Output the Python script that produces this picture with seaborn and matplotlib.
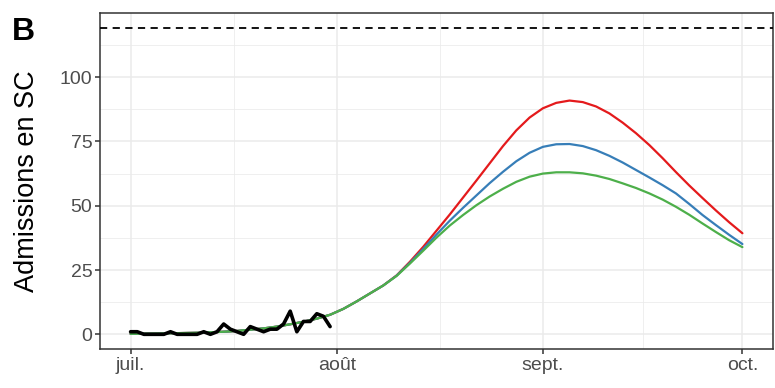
import numpy as np
import pandas as pd
import matplotlib
matplotlib.use("Agg")
import matplotlib.pyplot as plt
import seaborn as sns

# ---- data ----
start_date = "2021-07-01"

obs_days = list(range(0, 31))
obs_values = [1, 1, 0, 0, 0, 0, 1, 0, 0, 0, 0, 1, 0, 1, 4, 2, 1, 0, 3, 2,
              1, 2, 2, 4, 9, 1, 5, 5, 8, 7, 3]

proj_days = list(range(0, 93, 2))
early = [0.2, 0.25, 0.3, 0.4, 0.5, 0.6, 0.8, 1.0, 1.3, 1.8, 2.3, 3.0, 3.9,
         4.9, 6.1, 7.6, 9.9, 12.8, 15.9, 19.0]          # days 0..38
proj_high = early + [22.9, 28.2, 34.0, 40.3, 46.6, 53.2, 59.8, 66.5, 73.2,
                     79.3, 84.3, 87.9, 90.0, 90.9, 90.3, 88.6, 85.9, 82.3,
                     78.2, 73.6, 68.5, 63.1, 57.9, 53.0, 48.2, 43.6, 39.3]
proj_mid = early + [22.8, 27.8, 33.2, 38.8, 44.2, 49.2, 54.0, 58.8, 63.2,
                    67.3, 70.6, 72.9, 73.9, 74.0, 73.2, 71.6, 69.4, 66.8,
                    63.9, 61.0, 58.0, 54.8, 50.7, 46.4, 42.5, 38.7, 35.1]
proj_low = early + [22.7, 27.5, 32.5, 37.6, 42.3, 46.4, 50.2, 53.6, 56.6,
                    59.3, 61.3, 62.5, 63.0, 63.0, 62.6, 61.7, 60.4, 58.7,
                    56.9, 54.8, 52.4, 49.6, 46.5, 43.1, 39.8, 36.6, 33.9]
scenario_names = ["haut", "moyen", "bas"]
scenario_colors = ["#E41A1C", "#377EB8", "#4DAF4A"]

capacity = 119

month_ticks = ["2021-07-01", "2021-08-01", "2021-09-01", "2021-10-01"]
month_labels = ["juil.", "août", "sept.", "oct."]
y_ticks = [0, 25, 50, 75, 100]
y_label = "Admissions en SC"
panel_tag = "B"

# ---- build frames ----
t0 = pd.Timestamp(start_date)
proj_dates = t0 + pd.to_timedelta(proj_days, unit="D")
proj_df = pd.concat([
    pd.DataFrame({"date": proj_dates, "value": vals, "scenario": name})
    for name, vals in zip(scenario_names, [proj_high, proj_mid, proj_low])
], ignore_index=True)
obs_df = pd.DataFrame({"date": t0 + pd.to_timedelta(obs_days, unit="D"),
                       "value": obs_values})

# ---- plot ----
sns.set_theme(style="white")
plt.rcParams["font.family"] = ["Liberation Sans", "DejaVu Sans"]

fig, ax = plt.subplots(figsize=(7.75, 3.88), dpi=100)
fig.subplots_adjust(left=100/775, right=773/775, top=1-13/388, bottom=1-349/388)

sns.lineplot(data=proj_df, x="date", y="value", hue="scenario",
             hue_order=scenario_names, palette=scenario_colors,
             linewidth=1.6, legend=False, ax=ax, zorder=3)
sns.lineplot(data=obs_df, x="date", y="value", color="black",
             linewidth=2.6, ax=ax, zorder=4)
ax.axhline(capacity, color="black", linestyle=(0, (4, 3)), linewidth=1.3, zorder=4)

span = (pd.Timestamp(month_ticks[-1]) - t0).days
pad = pd.Timedelta(days=span * 0.05)
ax.set_xlim(t0 - pad, pd.Timestamp(month_ticks[-1]) + pad)
ymax = capacity
ax.set_ylim(-0.048 * ymax, ymax * 1.05)

mt = pd.to_datetime(month_ticks)
ax.set_xticks(mt)
ax.set_xticklabels(month_labels)
minor_x = [mt[i] + (mt[i + 1] - mt[i]) / 2 for i in range(len(mt) - 1)]
ax.set_xticks(minor_x, minor=True)
ax.set_yticks(y_ticks)
ax.set_yticks([v + 12.5 for v in y_ticks], minor=True)

ax.grid(True, which="major", color="#EBEBEB", linewidth=1.1, zorder=0)
ax.grid(True, which="minor", color="#EBEBEB", linewidth=0.55, zorder=0)
ax.set_axisbelow(True)

for s in ax.spines.values():
    s.set_color("#333333")
    s.set_linewidth(1.1)

ax.tick_params(axis="both", which="major", length=3.5, width=1.1,
               color="#333333", labelcolor="#4D4D4D", labelsize=14, pad=2,
               bottom=True, left=True)
ax.tick_params(axis="both", which="minor", length=0)

ax.set_xlabel("")
ax.set_ylabel(y_label, fontsize=19.5, color="black", labelpad=14)

fig.text(12/775, 1-40/388, panel_tag, fontsize=23, fontweight="bold",
         color="black", ha="left", va="baseline")

fig.savefig("out.png", dpi=100)
